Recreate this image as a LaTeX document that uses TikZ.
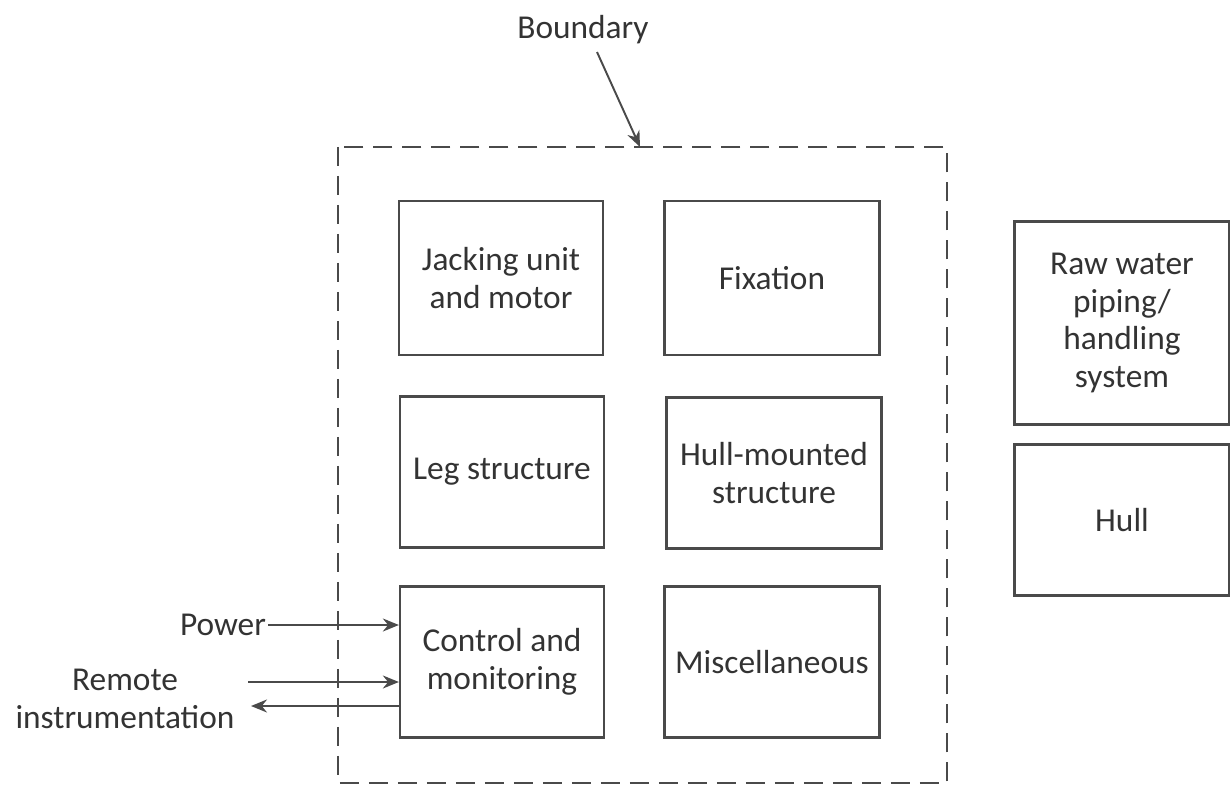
\documentclass[tikz,border=0pt]{standalone}
\usepackage{fontspec}
\setmainfont{Carlito}
\usetikzlibrary{arrows.meta,positioning,calc}
\definecolor{ink}{HTML}{333333}
\definecolor{edge}{HTML}{4A4A4A}
\tikzset{
  blk/.style={draw=edge, line width=1.3pt, minimum width=4.08cm, minimum height=3.02cm, align=center, text=ink, font=\fontsize{19}{21.6}\selectfont, inner sep=2pt},
  wideblk/.style={blk, minimum width=4.3cm},
  bound/.style={draw=edge, line width=1.3pt, dash pattern=on 0.38cm off 0.2cm},
  sig/.style={-{Stealth[length=3.2mm, width=2.6mm]}, line width=1.1pt, draw=edge},
  lab/.style={text=ink, font=\fontsize{19}{21.6}\selectfont, inner sep=1pt, align=center},
}

\begin{document}
\begin{tikzpicture}[x=0.02cm,y=-0.02cm]
\useasboundingbox (0,0) rectangle (1230,787);

% ===================== boundary ================
\draw[bound] (338,147) rectangle (947,783);
\node[lab] (bnd) at (583,30) {Boundary};
\coordinate (btop) at (640,147);
\draw[sig] (597,52) -- (btop);

% ===================== blocks inside the boundary ================
\node[blk, minimum height=3.08cm] (jack) at (501,278) {Jacking unit\\and motor};
\node[wideblk, minimum height=3.08cm] (fix)  at (772,278) {Fixation};
\node[blk] (leg)  at (502,472) {Leg structure};
\node[wideblk] (hull-m) at (774,473) {Hull-mounted\\structure};
\node[blk] (ctrl) at (502,662) {Control and\\monitoring};
\node[wideblk] (misc) at (772,662) {Miscellaneous};

% ===================== blocks outside ================
\node[wideblk, minimum height=4.06cm] (raw) at (1122,323) {Raw water\\piping/\\handling\\system};
\node[wideblk] (hull) at (1122,520) {Hull};

% ===================== signals ================
\node[lab, anchor=east] (pwr) at (268,625) {Power};
\node[lab] (rem) at (125,699) {Remote\\instrumentation};
\coordinate (rin) at (248,682);
\coordinate (rout) at (251,706);
\draw[sig] (pwr.east) -- (pwr.east -| ctrl.west);
\draw[sig] (rin) -- (rin -| ctrl.west);
\draw[sig] (rout -| ctrl.west) -- (rout);

\end{tikzpicture}
\end{document}
